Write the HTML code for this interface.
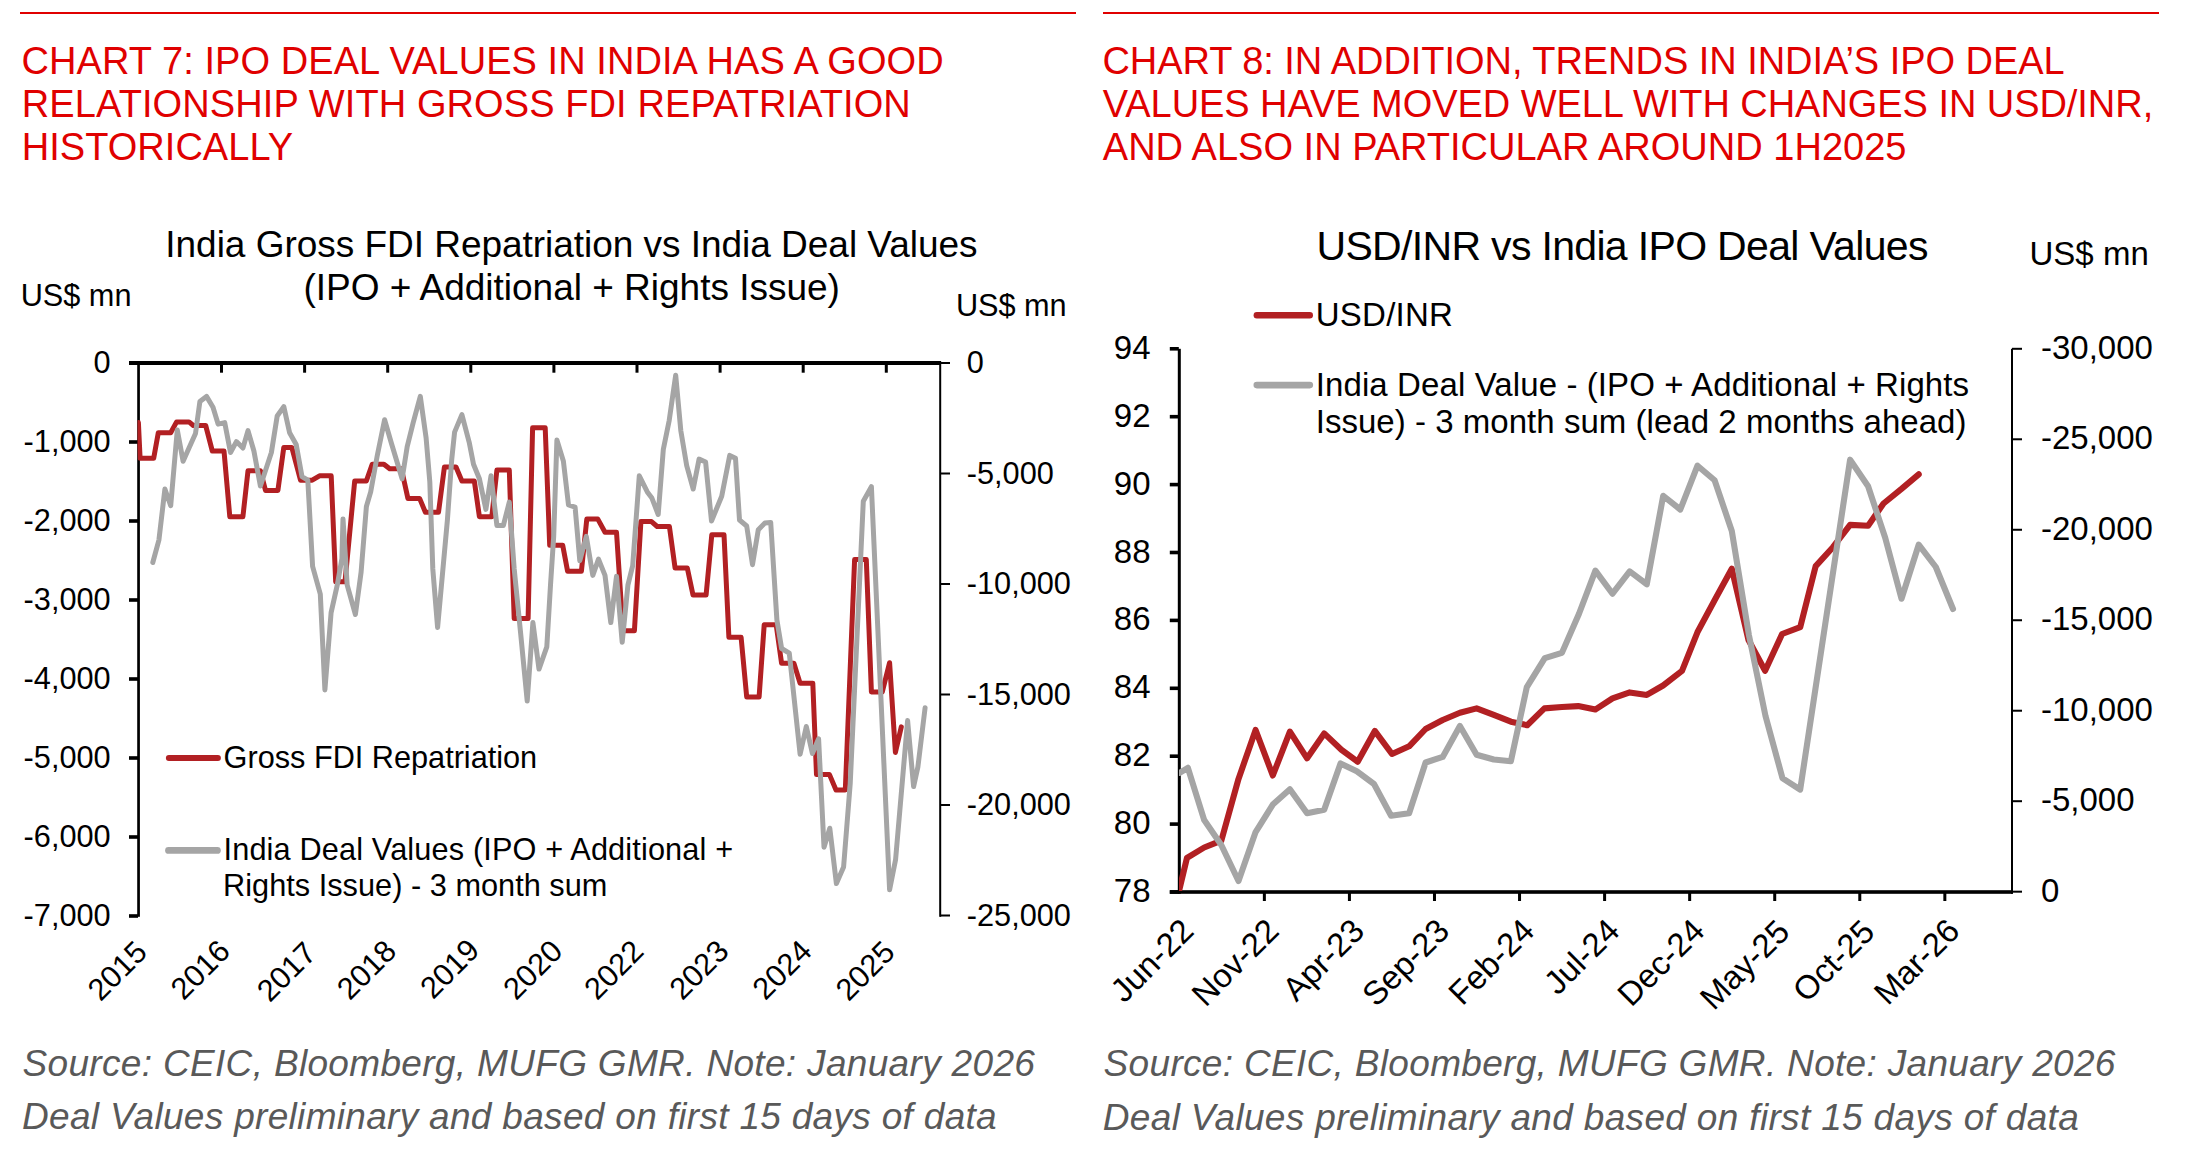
<!DOCTYPE html>
<html><head><meta charset="utf-8"><title>India IPO deal values charts</title>
<style>html,body{margin:0;padding:0;background:#fff;width:2188px;height:1166px;overflow:hidden}svg{display:block}text{font-family:"Liberation Sans",Arial,sans-serif}</style>
</head><body>
<svg width="2188" height="1166" viewBox="0 0 2188 1166" font-family="Liberation Sans, Arial, sans-serif">
<rect width="2188" height="1166" fill="#fff"/>
<rect x="20.00" y="12.00" width="1056.00" height="2.00" fill="#E00000"/>
<rect x="1103.00" y="12.00" width="1056.00" height="2.00" fill="#E00000"/>
<rect x="129.00" y="361.00" width="812.00" height="4.00" fill="#000"/>
<rect x="137.20" y="361.20" width="2.70" height="555.60" fill="#000"/>
<rect x="129.00" y="440.20" width="9.00" height="3.60" fill="#000"/>
<rect x="129.00" y="519.20" width="9.00" height="3.60" fill="#000"/>
<rect x="129.00" y="598.20" width="9.00" height="3.60" fill="#000"/>
<rect x="129.00" y="677.20" width="9.00" height="3.60" fill="#000"/>
<rect x="129.00" y="756.20" width="9.00" height="3.60" fill="#000"/>
<rect x="129.00" y="835.20" width="9.00" height="3.60" fill="#000"/>
<rect x="129.00" y="914.20" width="9.00" height="3.60" fill="#000"/>
<rect x="220.00" y="363.00" width="3.00" height="9.70" fill="#000"/>
<rect x="303.10" y="363.00" width="3.00" height="9.70" fill="#000"/>
<rect x="386.20" y="363.00" width="3.00" height="9.70" fill="#000"/>
<rect x="469.30" y="363.00" width="3.00" height="9.70" fill="#000"/>
<rect x="552.40" y="363.00" width="3.00" height="9.70" fill="#000"/>
<rect x="635.50" y="363.00" width="3.00" height="9.70" fill="#000"/>
<rect x="718.60" y="363.00" width="3.00" height="9.70" fill="#000"/>
<rect x="801.70" y="363.00" width="3.00" height="9.70" fill="#000"/>
<rect x="884.80" y="363.00" width="3.00" height="9.70" fill="#000"/>
<rect x="939.20" y="361.20" width="2.00" height="555.60" fill="#000"/>
<rect x="940.00" y="362.00" width="10.00" height="2.00" fill="#000"/>
<rect x="940.00" y="472.50" width="10.00" height="2.00" fill="#000"/>
<rect x="940.00" y="583.00" width="10.00" height="2.00" fill="#000"/>
<rect x="940.00" y="693.50" width="10.00" height="2.00" fill="#000"/>
<rect x="940.00" y="804.00" width="10.00" height="2.00" fill="#000"/>
<rect x="940.00" y="914.50" width="10.00" height="2.00" fill="#000"/>
<rect x="1177.80" y="348.80" width="3.00" height="545.00" fill="#000"/>
<rect x="1169.80" y="347.00" width="9.00" height="3.60" fill="#000"/>
<rect x="1169.80" y="414.90" width="9.00" height="3.60" fill="#000"/>
<rect x="1169.80" y="482.80" width="9.00" height="3.60" fill="#000"/>
<rect x="1169.80" y="550.70" width="9.00" height="3.60" fill="#000"/>
<rect x="1169.80" y="618.60" width="9.00" height="3.60" fill="#000"/>
<rect x="1169.80" y="686.50" width="9.00" height="3.60" fill="#000"/>
<rect x="1169.80" y="754.40" width="9.00" height="3.60" fill="#000"/>
<rect x="1169.80" y="822.30" width="9.00" height="3.60" fill="#000"/>
<rect x="1169.80" y="890.20" width="9.00" height="3.60" fill="#000"/>
<rect x="1169.80" y="890.20" width="843.00" height="3.60" fill="#000"/>
<rect x="1262.86" y="892.00" width="3.00" height="9.00" fill="#000"/>
<rect x="1347.92" y="892.00" width="3.00" height="9.00" fill="#000"/>
<rect x="1432.98" y="892.00" width="3.00" height="9.00" fill="#000"/>
<rect x="1518.04" y="892.00" width="3.00" height="9.00" fill="#000"/>
<rect x="1603.10" y="892.00" width="3.00" height="9.00" fill="#000"/>
<rect x="1688.16" y="892.00" width="3.00" height="9.00" fill="#000"/>
<rect x="1773.22" y="892.00" width="3.00" height="9.00" fill="#000"/>
<rect x="1858.28" y="892.00" width="3.00" height="9.00" fill="#000"/>
<rect x="1943.34" y="892.00" width="3.00" height="9.00" fill="#000"/>
<rect x="2011.00" y="348.80" width="2.00" height="545.00" fill="#000"/>
<rect x="2012.00" y="347.80" width="10.00" height="2.00" fill="#000"/>
<rect x="2012.00" y="438.28" width="10.00" height="2.00" fill="#000"/>
<rect x="2012.00" y="528.76" width="10.00" height="2.00" fill="#000"/>
<rect x="2012.00" y="619.24" width="10.00" height="2.00" fill="#000"/>
<rect x="2012.00" y="709.72" width="10.00" height="2.00" fill="#000"/>
<rect x="2012.00" y="800.20" width="10.00" height="2.00" fill="#000"/>
<rect x="2012.00" y="890.68" width="10.00" height="2.00" fill="#000"/>
<clipPath id="c7"><rect x="137.5" y="363" width="802" height="560"/></clipPath>
<clipPath id="c8"><rect x="1179" y="340" width="832" height="551"/></clipPath>
<g clip-path="url(#c7)"><polyline points="138.4,422.5 140.1,458.3 153.7,458.3 158.3,432.8 170.7,432.8 176.6,421.9 189.0,421.9 193.3,425.5 205.7,425.5 212.3,451.0 224.0,451.0 229.8,516.7 242.9,516.7 248.0,470.7 260.4,470.7 265.5,490.4 277.9,490.4 283.8,447.4 291.8,447.4 300.5,480.2 312.2,480.2 319.5,475.8 331.2,475.8 335.7,581.8 345.0,581.8 354.7,480.9 366.4,480.9 372.2,464.2 383.9,464.2 389.7,468.8 401.4,468.8 407.9,498.4 419.6,498.4 425.4,512.3 438.5,512.3 444.4,467.1 456.0,467.1 461.9,480.9 474.3,480.9 479.4,516.7 491.8,516.7 496.9,470.0 509.3,470.0 514.2,618.6 528.1,618.6 532.6,427.7 545.2,427.7 549.7,545.3 562.7,545.3 567.6,571.3 581.4,571.3 586.8,518.9 597.7,518.9 605.0,532.2 616.5,532.2 623.0,630.8 634.4,630.8 640.9,521.6 651.5,521.6 657.2,526.5 669.4,526.5 675.1,568.1 687.3,568.1 693.0,594.9 706.1,594.9 711.8,534.7 724.0,534.7 728.9,637.3 741.1,637.3 746.7,697.0 759.1,697.0 764.2,624.8 776.2,624.8 781.6,663.3 793.9,663.3 800.1,683.2 812.8,683.2 816.5,774.6 829.5,774.6 836.0,790.0 845.3,790.0 854.6,559.6 866.3,559.6 871.4,691.9 882.3,691.9 889.6,662.7 895.4,752.4 901.3,726.9" fill="none" stroke="#B22023" stroke-width="5.0" stroke-linejoin="round" stroke-linecap="round"/><polyline points="152.8,562.5 158.9,540.1 164.9,489.0 170.7,505.7 177.3,429.9 183.1,461.3 189.0,448.1 195.5,433.5 199.9,401.5 206.5,396.4 213.0,407.3 218.1,424.1 224.7,422.6 230.5,452.5 236.4,441.6 242.9,448.1 248.0,430.6 253.9,451.0 260.4,486.0 271.4,452.5 277.2,416.0 283.8,406.6 289.6,432.8 296.2,444.5 302.0,476.6 307.8,480.2 312.6,566.3 320.3,594.1 324.9,689.9 331.1,612.6 337.3,584.9 341.9,558.6 343.0,518.9 347.2,585.2 355.4,614.5 361.1,572.1 366.4,506.5 370.7,491.9 377.3,455.4 384.6,419.7 391.1,442.3 402.1,478.8 407.2,446.7 413.0,423.3 420.3,396.4 426.1,437.9 429.8,481.7 432.8,568.9 437.6,627.5 447.4,520.0 451.7,459.8 454.6,432.1 461.9,414.6 469.2,442.3 473.5,464.2 479.4,478.8 485.9,509.4 491.0,475.8 496.9,525.4 503.4,525.4 509.3,502.1 514.2,568.9 520.7,634.0 527.2,701.0 532.9,622.5 539.0,669.1 546.8,646.9 550.5,585.2 553.7,536.3 556.9,440.1 563.4,461.3 568.5,505.0 575.1,507.2 579.8,560.7 586.3,536.3 592.8,575.4 598.5,559.1 605.0,575.4 610.8,622.6 616.5,576.2 622.2,642.2 627.9,585.2 632.7,565.6 639.3,475.8 647.3,491.9 651.7,497.7 658.2,514.5 663.3,449.6 669.2,420.4 675.7,375.2 680.8,430.6 686.7,465.6 693.2,489.0 699.1,459.1 705.6,462.0 711.5,521.0 721.7,496.3 729.7,455.4 735.5,458.3 739.5,520.0 746.7,526.0 752.5,564.7 758.3,529.7 764.9,523.1 770.7,522.4 776.9,620.0 781.6,648.5 789.3,653.2 800.1,754.3 806.3,726.5 812.4,753.5 818.6,738.8 824.0,847.2 829.8,828.2 836.4,883.6 843.6,866.9 850.2,783.8 863.3,501.3 871.4,486.7 889.6,889.8 895.6,859.4 907.6,720.6 913.6,786.6 917.9,766.9 925.1,707.7" fill="none" stroke="#A5A5A5" stroke-width="5.0" stroke-linejoin="round" stroke-linecap="round"/></g>
<g clip-path="url(#c8)"><polyline points="1179.5,889.0 1187.0,857.8 1204.2,847.5 1221.3,840.7 1238.5,778.9 1255.6,730.0 1272.8,775.5 1289.9,731.7 1307.1,758.3 1324.2,733.4 1341.4,749.7 1357.7,761.7 1374.8,730.9 1392.0,754.0 1409.1,746.3 1425.6,729.0 1442.7,720.0 1459.9,712.7 1476.6,708.4 1493.8,714.9 1510.9,721.7 1527.2,725.2 1544.4,708.4 1561.9,707.0 1578.2,706.1 1595.4,709.5 1612.5,698.4 1629.7,692.4 1646.8,694.9 1663.1,685.5 1682.0,670.9 1697.4,632.3 1714.6,600.3 1731.8,568.7 1748.5,640.0 1765.1,670.8 1782.1,634.0 1800.2,627.2 1815.7,566.1 1832.9,547.2 1850.1,524.9 1868.1,525.8 1883.5,503.5 1901.5,488.9 1918.7,474.3" fill="none" stroke="#B22023" stroke-width="6.1" stroke-linejoin="round" stroke-linecap="round"/><polyline points="1179.5,772.9 1187.9,767.8 1204.2,820.1 1221.3,845.0 1238.5,881.0 1255.6,832.1 1272.8,804.6 1289.9,789.2 1307.1,813.2 1324.2,809.8 1340.5,763.5 1356.8,771.2 1374.0,784.0 1391.1,815.8 1409.1,813.2 1425.6,762.5 1442.7,756.9 1459.9,726.0 1476.6,754.8 1493.8,759.5 1510.9,761.2 1526.8,687.2 1544.8,658.1 1561.9,652.9 1579.1,613.5 1595.4,570.6 1612.5,593.7 1629.7,571.4 1646.8,584.3 1663.2,495.8 1680.3,509.5 1697.5,465.7 1714.6,480.3 1731.8,530.9 1748.9,635.0 1765.5,716.0 1782.5,778.3 1800.2,789.6 1850.1,459.7 1868.1,486.3 1885.2,537.8 1901.5,598.7 1918.7,544.7 1935.8,567.0 1953.0,609.0" fill="none" stroke="#A5A5A5" stroke-width="6.1" stroke-linejoin="round" stroke-linecap="round"/></g>
<line x1="168.9" y1="758" x2="217.9" y2="758" stroke="#B22023" stroke-width="6" stroke-linecap="round"/>
<line x1="168.5" y1="850.4" x2="217.4" y2="850.4" stroke="#A5A5A5" stroke-width="6.8" stroke-linecap="round"/>
<line x1="1256.8" y1="315.3" x2="1309.8" y2="315.3" stroke="#B22023" stroke-width="6.4" stroke-linecap="round"/>
<line x1="1256.8" y1="385.1" x2="1309.8" y2="385.1" stroke="#A5A5A5" stroke-width="6.6" stroke-linecap="round"/>
<text x="21.6" y="73.7" font-size="38.0" fill="#E00000" textLength="922.0" lengthAdjust="spacing">CHART 7: IPO DEAL VALUES IN INDIA HAS A GOOD</text>
<text x="21.8" y="116.9" font-size="38.0" fill="#E00000" textLength="889.0" lengthAdjust="spacing">RELATIONSHIP WITH GROSS FDI REPATRIATION</text>
<text x="21.8" y="160.4" font-size="38.0" fill="#E00000" textLength="271.3" lengthAdjust="spacing">HISTORICALLY</text>
<text x="1102.4" y="73.7" font-size="38.0" fill="#E00000" textLength="962.3" lengthAdjust="spacing">CHART 8: IN ADDITION, TRENDS IN INDIA’S IPO DEAL</text>
<text x="1102.8" y="116.9" font-size="38.0" fill="#E00000" textLength="1050.4" lengthAdjust="spacing">VALUES HAVE MOVED WELL WITH CHANGES IN USD/INR,</text>
<text x="1102.8" y="160.4" font-size="38.0" fill="#E00000" textLength="803.7" lengthAdjust="spacing">AND ALSO IN PARTICULAR AROUND 1H2025</text>
<text x="165.3" y="256.9" font-size="37" fill="#000" textLength="812.3" lengthAdjust="spacing">India Gross FDI Repatriation vs India Deal Values</text>
<text x="303.4" y="299.8" font-size="37" fill="#000" textLength="536.5" lengthAdjust="spacing">(IPO + Additional + Rights Issue)</text>
<text x="20.7" y="305.9" font-size="30.7" fill="#000" textLength="110.8" lengthAdjust="spacing">US$ mn</text>
<text x="956.0" y="316.0" font-size="30.7" fill="#000" textLength="110.6" lengthAdjust="spacing">US$ mn</text>
<text x="93.6" y="373.2" font-size="30.7" fill="#000">0</text>
<text x="23.6" y="452.2" font-size="30.7" fill="#000">-1,000</text>
<text x="23.6" y="531.2" font-size="30.7" fill="#000">-2,000</text>
<text x="23.6" y="610.2" font-size="30.7" fill="#000">-3,000</text>
<text x="23.6" y="689.2" font-size="30.7" fill="#000">-4,000</text>
<text x="23.6" y="768.2" font-size="30.7" fill="#000">-5,000</text>
<text x="23.6" y="847.2" font-size="30.7" fill="#000">-6,000</text>
<text x="23.6" y="926.2" font-size="30.7" fill="#000">-7,000</text>
<text x="966.8" y="373.2" font-size="30.7" fill="#000">0</text>
<text x="966.8" y="483.7" font-size="30.7" fill="#000">-5,000</text>
<text x="966.8" y="594.2" font-size="30.7" fill="#000">-10,000</text>
<text x="966.8" y="704.7" font-size="30.7" fill="#000">-15,000</text>
<text x="966.8" y="815.2" font-size="30.7" fill="#000">-20,000</text>
<text x="966.8" y="925.7" font-size="30.7" fill="#000">-25,000</text>
<text x="223.6" y="767.8" font-size="30.7" fill="#000" textLength="313.6" lengthAdjust="spacing">Gross FDI Repatriation</text>
<text x="223.5" y="859.6" font-size="30.7" fill="#000" textLength="509.6" lengthAdjust="spacing">India Deal Values (IPO + Additional +</text>
<text x="223.0" y="895.8" font-size="30.7" fill="#000" textLength="384.4" lengthAdjust="spacing">Rights Issue) - 3 month sum</text>
<text x="148.8" y="954.0" font-size="30.7" fill="#000" text-anchor="end" transform="rotate(-45 148.8 954.0)">2015</text>
<text x="231.9" y="953.0" font-size="30.7" fill="#000" text-anchor="end" transform="rotate(-45 231.9 953.0)">2016</text>
<text x="318.0" y="955.0" font-size="30.7" fill="#000" text-anchor="end" transform="rotate(-45 318.0 955.0)">2017</text>
<text x="398.1" y="953.0" font-size="30.7" fill="#000" text-anchor="end" transform="rotate(-45 398.1 953.0)">2018</text>
<text x="481.2" y="952.0" font-size="30.7" fill="#000" text-anchor="end" transform="rotate(-45 481.2 952.0)">2019</text>
<text x="564.3" y="953.0" font-size="30.7" fill="#000" text-anchor="end" transform="rotate(-45 564.3 953.0)">2020</text>
<text x="645.4" y="953.0" font-size="30.7" fill="#000" text-anchor="end" transform="rotate(-45 645.4 953.0)">2022</text>
<text x="730.5" y="953.0" font-size="30.7" fill="#000" text-anchor="end" transform="rotate(-45 730.5 953.0)">2023</text>
<text x="813.6" y="953.0" font-size="30.7" fill="#000" text-anchor="end" transform="rotate(-45 813.6 953.0)">2024</text>
<text x="896.7" y="954.0" font-size="30.7" fill="#000" text-anchor="end" transform="rotate(-45 896.7 954.0)">2025</text>
<text x="1316.5" y="259.8" font-size="41" fill="#000" textLength="611.9" lengthAdjust="spacing">USD/INR vs India IPO Deal Values</text>
<text x="2029.4" y="264.7" font-size="33" fill="#000" textLength="119.4" lengthAdjust="spacing">US$ mn</text>
<text x="1315.7" y="325.7" font-size="33" fill="#000" textLength="137.2" lengthAdjust="spacing">USD/INR</text>
<text x="1315.7" y="395.5" font-size="33" fill="#000" textLength="653.4" lengthAdjust="spacing">India Deal Value - (IPO + Additional + Rights</text>
<text x="1315.7" y="433.2" font-size="33" fill="#000" textLength="650.8" lengthAdjust="spacing">Issue) - 3 month sum (lead 2 months ahead)</text>
<text x="1113.8" y="358.8" font-size="33" fill="#000">94</text>
<text x="1113.8" y="426.7" font-size="33" fill="#000">92</text>
<text x="1113.8" y="494.6" font-size="33" fill="#000">90</text>
<text x="1113.8" y="562.5" font-size="33" fill="#000">88</text>
<text x="1113.8" y="630.4" font-size="33" fill="#000">86</text>
<text x="1113.8" y="698.3" font-size="33" fill="#000">84</text>
<text x="1113.8" y="766.2" font-size="33" fill="#000">82</text>
<text x="1113.8" y="834.1" font-size="33" fill="#000">80</text>
<text x="1113.8" y="902.0" font-size="33" fill="#000">78</text>
<text x="2041.0" y="358.8" font-size="33" fill="#000">-30,000</text>
<text x="2041.0" y="449.3" font-size="33" fill="#000">-25,000</text>
<text x="2041.0" y="539.8" font-size="33" fill="#000">-20,000</text>
<text x="2041.0" y="630.2" font-size="33" fill="#000">-15,000</text>
<text x="2041.0" y="720.7" font-size="33" fill="#000">-10,000</text>
<text x="2041.0" y="811.2" font-size="33" fill="#000">-5,000</text>
<text x="2041.0" y="901.7" font-size="33" fill="#000">0</text>
<text x="1195.6" y="932.7" font-size="33" fill="#000" text-anchor="end" transform="rotate(-45 1195.6 932.7)">Jun-22</text>
<text x="1280.7" y="932.7" font-size="33" fill="#000" text-anchor="end" transform="rotate(-45 1280.7 932.7)">Nov-22</text>
<text x="1366.2" y="932.7" font-size="33" fill="#000" text-anchor="end" transform="rotate(-45 1366.2 932.7)">Apr-23</text>
<text x="1451.3" y="932.7" font-size="33" fill="#000" text-anchor="end" transform="rotate(-45 1451.3 932.7)">Sep-23</text>
<text x="1536.3" y="932.7" font-size="33" fill="#000" text-anchor="end" transform="rotate(-45 1536.3 932.7)">Feb-24</text>
<text x="1621.4" y="932.7" font-size="33" fill="#000" text-anchor="end" transform="rotate(-45 1621.4 932.7)">Jul-24</text>
<text x="1706.5" y="932.7" font-size="33" fill="#000" text-anchor="end" transform="rotate(-45 1706.5 932.7)">Dec-24</text>
<text x="1791.5" y="933.7" font-size="33" fill="#000" text-anchor="end" transform="rotate(-45 1791.5 933.7)">May-25</text>
<text x="1876.6" y="933.7" font-size="33" fill="#000" text-anchor="end" transform="rotate(-45 1876.6 933.7)">Oct-25</text>
<text x="1961.6" y="932.7" font-size="33" fill="#000" text-anchor="end" transform="rotate(-45 1961.6 932.7)">Mar-26</text>
<text x="22.5" y="1075.8" font-size="37" font-style="italic" fill="#595959" textLength="1012.4" lengthAdjust="spacing">Source: CEIC, Bloomberg, MUFG GMR. Note: January 2026</text>
<text x="22.0" y="1129.3" font-size="37" font-style="italic" fill="#595959" textLength="974.7" lengthAdjust="spacing">Deal Values preliminary and based on first 15 days of data</text>
<text x="1103.6" y="1075.5" font-size="37" font-style="italic" fill="#595959" textLength="1011.8" lengthAdjust="spacing">Source: CEIC, Bloomberg, MUFG GMR. Note: January 2026</text>
<text x="1102.8" y="1129.6" font-size="37" font-style="italic" fill="#595959" textLength="976.0" lengthAdjust="spacing">Deal Values preliminary and based on first 15 days of data</text>
</svg>
</body></html>
